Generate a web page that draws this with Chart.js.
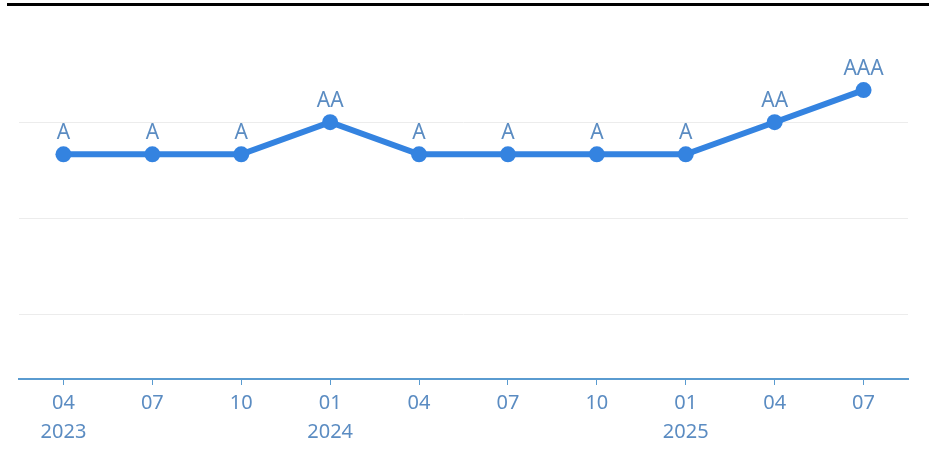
<!DOCTYPE html>
<html>
<head>
<meta charset="utf-8">
<script src="https://cdn.jsdelivr.net/npm/chart.js@4"></script>
<style>
    html, body { margin: 0; padding: 0; background: #ffffff; }
    #topRule { position: absolute; left: 7px; top: 3px; width: 922px; height: 2px; border-top: 3px solid #000; }
    #wrap { position: absolute; left: 0; top: 0; width: 936px; height: 457px; }
</style>
</head>
<body>
<div id="topRule"></div>
<div id="wrap"><canvas id="ratingChart"></canvas></div>
<script>
// 数据
const months = ['04', '07', '10', '01', '04', '07', '10', '01', '04', '07'];
const years = ['2023', '', '', '2024', '', '', '', '2025', '', ''];
const ratings = ['A', 'A', 'A', 'AA', 'A', 'A', 'A', 'A', 'AA', 'AAA'];

// 评级 -> 数值等级
const ratingLevels = { A: 5, AA: 6, AAA: 7 };
const gridValues = [0, 3, 6];

const lineColor = '#3483e0';
const labelColor = '#5b8cc2';
const axisColor = '#5a9bd0';
const fontFamily = '"Noto Sans", "Open Sans", sans-serif';

// 点上的评级文字
const ratingLabelPlugin = {
    id: 'ratingLabels',
    afterDatasetsDraw(chart) {
        const ctx = chart.ctx;
        const meta = chart.getDatasetMeta(0);
        ctx.save();
        ctx.font = '21px ' + fontFamily;
        ctx.fillStyle = labelColor;
        ctx.textAlign = 'center';
        ctx.textBaseline = 'bottom';
        meta.data.forEach((pt, i) => {
            ctx.fillText(ratings[i], pt.x, pt.y - 11);
        });
        ctx.restore();
    }
};

const ctx = document.getElementById('ratingChart').getContext('2d');
new Chart(ctx, {
    type: 'line',
    data: {
        labels: months.map((m, i) => years[i] ? [m, years[i]] : [m, '']),
        datasets: [{
            data: ratings.map(r => ratingLevels[r]),
            borderColor: lineColor,
            backgroundColor: lineColor,
            borderWidth: 6,
            pointRadius: 8,
            pointHoverRadius: 8,
            pointBackgroundColor: lineColor,
            pointBorderWidth: 0,
            tension: 0,
            clip: false
        }]
    },
    options: {
        responsive: true,
        maintainAspectRatio: false,
        animation: false,
        layout: { padding: { left: 19, right: 28, top: 58, bottom: 6 } },
        plugins: {
            legend: { display: false },
            tooltip: { enabled: false }
        },
        scales: {
            x: {
                offset: true,
                grid: {
                    display: true,
                    drawOnChartArea: false,
                    drawTicks: true,
                    tickLength: 6,
                    color: axisColor
                },
                border: { display: true, color: axisColor, width: 2 },
                ticks: {
                    color: labelColor,
                    font: { family: fontFamily, size: 20, lineHeight: 1.45 },
                    padding: 4,
                    maxRotation: 0,
                    autoSkip: false
                }
            },
            y: {
                min: -2,
                max: 8,
                afterBuildTicks: scale => {
                    scale.ticks = gridValues.map(v => ({ value: v }));
                },
                grid: { color: '#ececec', lineWidth: 1, drawTicks: false },
                border: { display: false },
                ticks: { display: false }
            }
        }
    },
    plugins: [ratingLabelPlugin]
});
</script>
</body>
</html>
